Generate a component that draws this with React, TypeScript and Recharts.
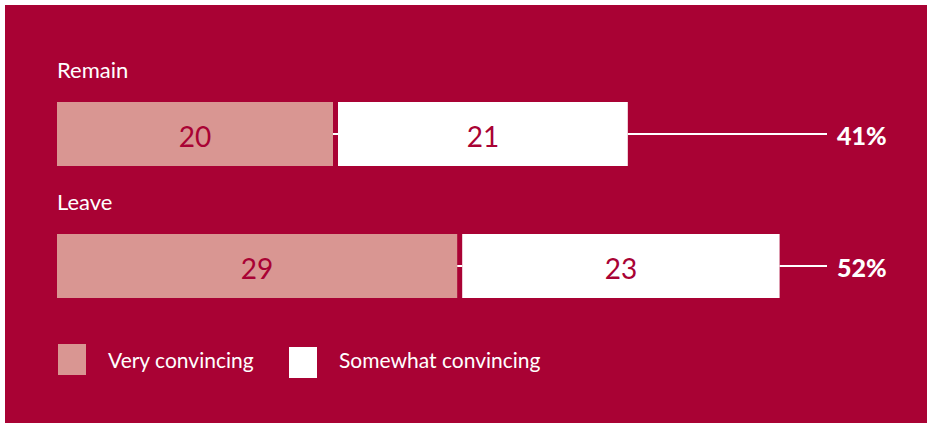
import React from 'react';
import { BarChart, Bar, XAxis, YAxis, LabelList } from 'recharts';

const categories = ['Remain', 'Leave'];
const veryConvincing = [20, 29];
const somewhatConvincing = [21, 23];
const totalLabels = ['41%', '52%'];
const seriesNames = ['Very convincing', 'Somewhat convincing'];

const BG = '#A90234';
const PINK = '#D99692';
const WHITE = '#FFFFFF';
const FONT = 'Lato, "Open Sans", sans-serif';
const GAP = 5;
const LEADER_END = 822;
const TOTAL_X = 832;

const data = categories.map((c, i) => ({
  name: c,
  very: veryConvincing[i],
  somewhat: somewhatConvincing[i],
  total: totalLabels[i],
}));

const SomewhatShape = (props: any) => {
  const { x, y, width, height, payload } = props;
  const cy = y + height / 2;
  const bx = x + GAP;
  return (
    <g>
      <line x1={x} x2={bx} y1={cy} y2={cy} stroke={WHITE} strokeWidth={2} />
      <rect x={bx} y={y} width={width} height={height} fill={WHITE} />
      <text
        x={bx + width / 2}
        y={cy + 2}
        textAnchor="middle"
        dominantBaseline="central"
        fill={BG}
        fontSize={28}
        fontWeight={400}
        fontFamily={FONT}
      >
        {payload.somewhat}
      </text>
      <line x1={bx + width} x2={LEADER_END} y1={cy} y2={cy} stroke={WHITE} strokeWidth={2} />
      <text
        x={TOTAL_X}
        y={cy + 1}
        textAnchor="start"
        dominantBaseline="central"
        fill={WHITE}
        fontSize={25}
        fontWeight={900}
        fontFamily={FONT}
      >
        {payload.total}
      </text>
    </g>
  );
};

const CategoryLabel = (props: any) => {
  const { x, y, value } = props;
  return (
    <text x={x} y={y - 24} fill={WHITE} fontSize={22} fontFamily={FONT} fontWeight={400}>
      {value}
    </text>
  );
};

const ValueLabel = (props: any) => {
  const { x, y, width, height, value } = props;
  return (
    <text
      x={x + width / 2}
      y={y + height / 2 + 2}
      textAnchor="middle"
      dominantBaseline="central"
      fill={BG}
      fontSize={28}
      fontWeight={400}
      fontFamily={FONT}
    >
      {value}
    </text>
  );
};

const LegendBlock = () => (
  <div
    style={{
      position: 'absolute',
      left: 53,
      top: 339,
      width: 560,
      height: 40,
      fontFamily: FONT,
      color: WHITE,
      fontSize: 21,
    }}
  >
    <div style={{ position: 'absolute', left: 0, top: 0, width: 28, height: 31, background: PINK }} />
    <div style={{ position: 'absolute', left: 50, top: 1, lineHeight: '30px', whiteSpace: 'nowrap' }}>{seriesNames[0]}</div>
    <div style={{ position: 'absolute', left: 231, top: 3, width: 28, height: 31, background: WHITE }} />
    <div style={{ position: 'absolute', left: 281, top: 1, lineHeight: '30px', whiteSpace: 'nowrap' }}>{seriesNames[1]}</div>
  </div>
);

export default function App() {
  return (
    <div style={{ position: 'absolute', left: 0, top: 0, width: 927, height: 423, background: WHITE }}>
      <div style={{ position: 'absolute', left: 5, top: 5, width: 922, height: 418, background: BG }}>
        <BarChart
          width={922}
          height={418}
          data={data}
          layout="vertical"
          margin={{ top: 63, right: 42, bottom: 91, left: 52 }}
        >
          <XAxis type="number" domain={[0, 60]} hide />
          <YAxis type="category" dataKey="name" hide />
          <Bar dataKey="very" stackId="a" fill={PINK} barSize={64} isAnimationActive={false}>
            <LabelList dataKey="name" content={<CategoryLabel />} />
            <LabelList dataKey="very" content={<ValueLabel />} />
          </Bar>
          <Bar
            dataKey="somewhat"
            stackId="a"
            fill={WHITE}
            barSize={64}
            shape={<SomewhatShape />}
            isAnimationActive={false}
          />
        </BarChart>
        <LegendBlock />
      </div>
    </div>
  );
}
